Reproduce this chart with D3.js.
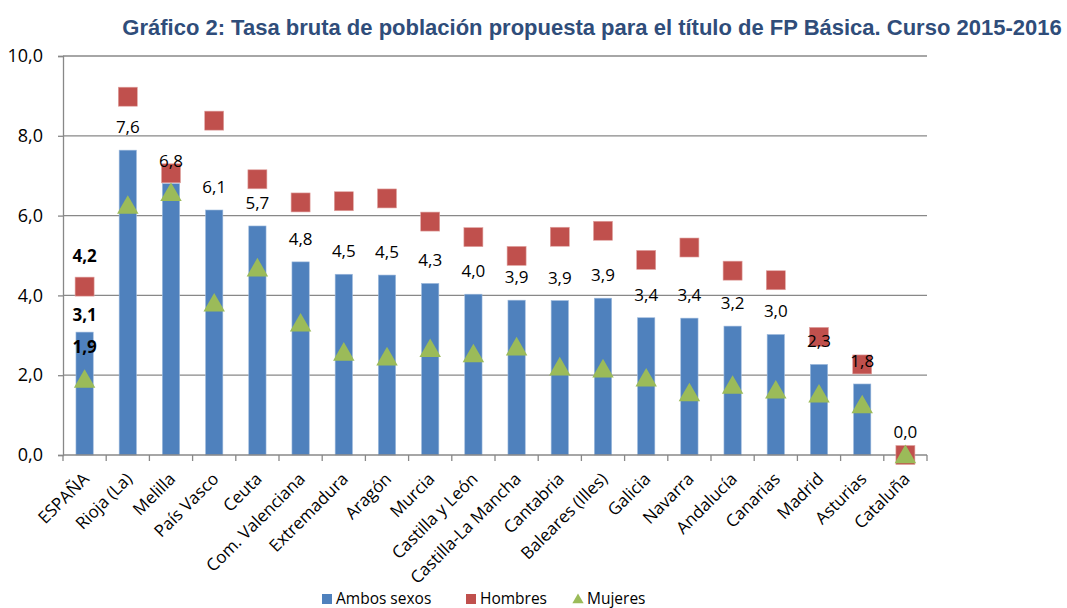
<!DOCTYPE html>
<html>
<head>
<meta charset="utf-8">
<script src="https://cdn.jsdelivr.net/npm/d3@7"></script>
<style>
  body { margin: 0; background: #fff; }
  svg { display: block; }
</style>
</head>
<body>
<div id="chart"></div>
<script>
const categories = ['ESPAÑA', 'Rioja (La)', 'Melilla', 'País Vasco', 'Ceuta', 'Com. Valenciana',
  'Extremadura', 'Aragón', 'Murcia', 'Castilla y León', 'Castilla-La Mancha', 'Cantabria',
  'Baleares (Illes)', 'Galicia', 'Navarra', 'Andalucía', 'Canarias', 'Madrid', 'Asturias', 'Cataluña'];

const ambos = [3.08, 7.64, 6.8, 6.14, 5.74, 4.84, 4.53, 4.51, 4.30, 4.03, 3.88, 3.87, 3.93, 3.44, 3.43, 3.23, 3.02, 2.27, 1.78, 0.0];
const hombres = [4.22, 8.98, 7.06, 8.38, 6.91, 6.33, 6.36, 6.43, 5.85, 5.46, 4.99, 5.47, 5.62, 4.89, 5.20, 4.62, 4.38, 2.96, 2.27, 0.0];
const mujeres = [1.89, 6.25, 6.57, 3.80, 4.68, 3.30, 2.57, 2.45, 2.66, 2.53, 2.70, 2.20, 2.15, 1.92, 1.55, 1.74, 1.62, 1.52, 1.25, 0.0];

const yTicks = [0, 2, 4, 6, 8, 10];
const seriesNames = ['Ambos sexos', 'Hombres', 'Mujeres'];

const width = 1067, height = 608;
const blue = '#4f81bd', red = '#c0504d', green = '#9bbb59', gridColor = '#888888';
const fmt = v => v.toFixed(1).replace('.', ',');

const svg = d3.select('#chart').append('svg')
  .attr('width', width).attr('height', height)
  .style('font-family', '"Open Sans", sans-serif');

// title
svg.append('text')
  .attr('x', 592).attr('y', 35)
  .attr('text-anchor', 'middle')
  .style('font-family', '"Liberation Sans", Arial, sans-serif')
  .style('font-weight', 'bold')
  .style('font-size', '22px')
  .style('fill', '#2f4d7a')
  .text('Gráfico 2: Tasa bruta de población propuesta para el título de FP Básica. Curso 2015-2016');

const x = d3.scaleBand().domain(categories).range([63, 927]).padding(0);
const y = d3.scaleLinear().domain([0, 10]).range([455, 56]);
const barW = x.bandwidth() * 0.4;
const cx = c => x(c) + x.bandwidth() / 2;

// gridlines
svg.append('g')
  .selectAll('line')
  .data(yTicks.filter(t => t > 0))
  .join('line')
  .attr('x1', 63).attr('x2', 927)
  .attr('y1', d => y(d)).attr('y2', d => y(d))
  .attr('stroke', gridColor).attr('stroke-width', 1.3);

// y axis
svg.append('g')
  .attr('transform', 'translate(63,0)')
  .call(d3.axisLeft(y).tickValues(yTicks).tickFormat(fmt).tickSize(5).tickPadding(15))
  .call(g => g.selectAll('line, path').attr('stroke', gridColor).attr('stroke-width', 1.3))
  .call(g => g.selectAll('text')
    .style('font-family', '"Open Sans", sans-serif')
    .style('font-size', '18px')
    .attr('fill', '#000'));

// bars
svg.append('g')
  .selectAll('rect')
  .data(categories)
  .join('rect')
  .attr('x', d => cx(d) - barW / 2)
  .attr('width', barW)
  .attr('y', (d, i) => y(ambos[i]))
  .attr('height', (d, i) => y(0) - y(ambos[i]))
  .attr('fill', blue)
  .attr('stroke', '#9db9dc').attr('stroke-width', 0.6);

// x axis
const xAxis = svg.append('g');
xAxis.append('line')
  .attr('x1', 63).attr('x2', 927).attr('y1', y(0)).attr('y2', y(0))
  .attr('stroke', gridColor).attr('stroke-width', 1.5);
xAxis.selectAll('line.tick')
  .data(categories.map(c => x(c)).concat([x.range()[1]]))
  .join('line')
  .attr('class', 'tick')
  .attr('x1', d => d).attr('x2', d => d)
  .attr('y1', y(0)).attr('y2', y(0) + 6)
  .attr('stroke', gridColor).attr('stroke-width', 1.3);
xAxis.selectAll('text')
  .data(categories)
  .join('text')
  .attr('transform', d => `translate(${cx(d) + 5.5},${y(0) + 25}) rotate(-45)`)
  .attr('text-anchor', 'end')
  .style('font-size', '17px')
  .text(d => d);

// hombres squares
const sq = 19;
svg.append('g')
  .selectAll('rect')
  .data(categories)
  .join('rect')
  .attr('x', d => cx(d) - sq / 2)
  .attr('y', (d, i) => y(hombres[i]) - sq / 2)
  .attr('width', sq).attr('height', sq)
  .attr('fill', red)
  .attr('stroke', '#e0a3a1').attr('stroke-width', 0.6);

// mujeres triangles
const tri = d3.symbol().type(d3.symbolTriangle).size(200);
svg.append('g')
  .selectAll('path')
  .data(categories)
  .join('path')
  .attr('d', tri)
  .attr('transform', (d, i) => `translate(${cx(d)},${y(mujeres[i]) + 2})`)
  .attr('fill', green);

// data labels (ambos)
svg.append('g')
  .selectAll('text')
  .data(categories.slice(1))
  .join('text')
  .attr('x', d => cx(d))
  .attr('y', (d, i) => y(ambos[i + 1]) - 23)
  .attr('dy', '0.35em')
  .attr('text-anchor', 'middle')
  .style('font-size', '17px')
  .text((d, i) => fmt(ambos[i + 1]));

// ESPAÑA labels (bold)
const esp = [
  { v: hombres[0], off: 31 },
  { v: ambos[0], off: 17 },
  { v: mujeres[0], off: 33 }
];
svg.append('g')
  .selectAll('text')
  .data(esp)
  .join('text')
  .attr('x', cx(categories[0]))
  .attr('y', d => y(d.v) - d.off)
  .attr('dy', '0.35em')
  .attr('text-anchor', 'middle')
  .style('font-size', '17px')
  .style('font-weight', 'bold')
  .text(d => fmt(d.v));

// legend
const legendX = [322, 466, 573];
const leg = svg.append('g');
seriesNames.forEach((name, i) => {
  const g = leg.append('g').attr('transform', `translate(${legendX[i]},0)`);
  if (i < 2) {
    g.append('rect').attr('x', 0).attr('y', 594).attr('width', 10).attr('height', 10)
      .attr('fill', i === 0 ? blue : red);
  } else {
    g.append('path').attr('d', d3.symbol().type(d3.symbolTriangle).size(55))
      .attr('transform', 'translate(5,600)').attr('fill', green);
  }
  g.append('text').attr('x', 14).attr('y', 604)
    .style('font-size', '15.5px')
    .text(name);
});
</script>
</body>
</html>
